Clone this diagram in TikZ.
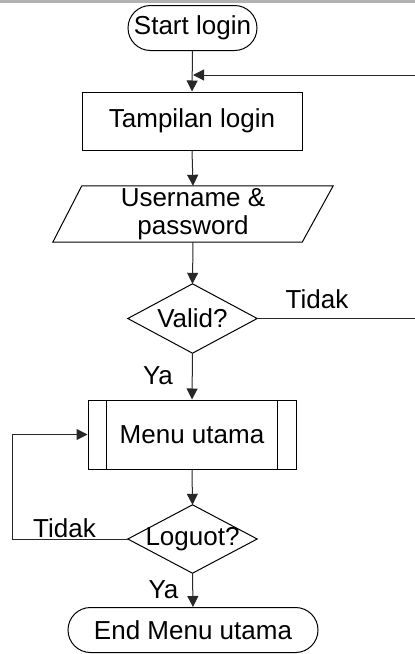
\documentclass[tikz,border=0pt]{standalone}
\usepackage{fontspec}
\setmainfont{Liberation Sans}
\usetikzlibrary{shapes.misc,arrows.meta}
\definecolor{conn}{RGB}{40,40,40}
\begin{document}
\begin{tikzpicture}[x=1pt,y=-1pt,
  every node/.style={font=\fontsize{26}{28}\selectfont, inner sep=0pt},
  terminal/.style={rounded rectangle, draw=black, line width=1pt, minimum width=#1, minimum height=45pt},
  procbox/.style={rectangle, draw=black, line width=1pt},
  shapebox/.style={rectangle, draw=none},
  outline/.style={draw=black, line width=1pt},
  flow/.style={draw=conn, line width=1pt, -{Triangle[width=11pt,length=11pt]}},
  lbl/.style={anchor=base}]
\useasboundingbox (0,0) rectangle (415,654);
\fill[gray!60] (0,0) rectangle (415,2.5);

% nodes
\node[terminal=129pt] (start) at (192.5,28) {Start login};
\node[procbox, minimum width=220pt, minimum height=58pt] (tampil) at (192,121) {Tampilan login};
\node[shapebox, minimum width=280pt, minimum height=56pt, align=center] (io) at (193,214) {Username \&\\password};
\draw[outline] (io.south west) -- ([xshift=29pt]io.north west) -- (io.north east) -- ([xshift=-31pt]io.south east) -- cycle;
\node[shapebox, minimum width=129pt, minimum height=69pt] (valid) at (192.5,318.5) {Valid?};
\draw[outline] (valid.north) -- (valid.east) -- (valid.south) -- (valid.west) -- cycle;
\node[procbox, minimum width=208pt, minimum height=69pt] (menu) at (192,434.5) {Menu utama};
\draw[outline] ([xshift=19pt]menu.north west) -- ([xshift=19pt]menu.south west);
\draw[outline] ([xshift=-19pt]menu.north east) -- ([xshift=-19pt]menu.south east);
\node[shapebox, minimum width=129pt, minimum height=68pt] (logout) at (192.5,539) {Loguot?};
\draw[outline] (logout.north) -- (logout.east) -- (logout.south) -- (logout.west) -- cycle;
\node[terminal=250pt] (end) at (193,630) {End Menu utama};

\coordinate (j) at (193,75);
\coordinate (loopl) at (12,539);
\coordinate (rightv) at (418,318.5);

% connectors
\draw[flow] (start.south) -- (tampil.north);
\draw[flow] (tampil.south) -- (io.north);
\draw[flow] (io.south) -- (valid.north);
\draw[flow] (valid.south) -- (menu.north);
\draw[flow] (menu.south) -- (logout.north);
\draw[flow] (logout.south) -- (end.north);
\draw[flow] (valid.east) -- (rightv) |- (j);
\draw[flow] (logout.west) -- (loopl) |- (menu.west);

% labels
\node[lbl] (t1) at (317,308) {Tidak};
\node[lbl] (y1) at (158,384) {Ya};
\node[lbl] (t2) at (64.5,537) {Tidak};
\node[lbl] (y2) at (163.5,598) {Ya};
\end{tikzpicture}
\end{document}
